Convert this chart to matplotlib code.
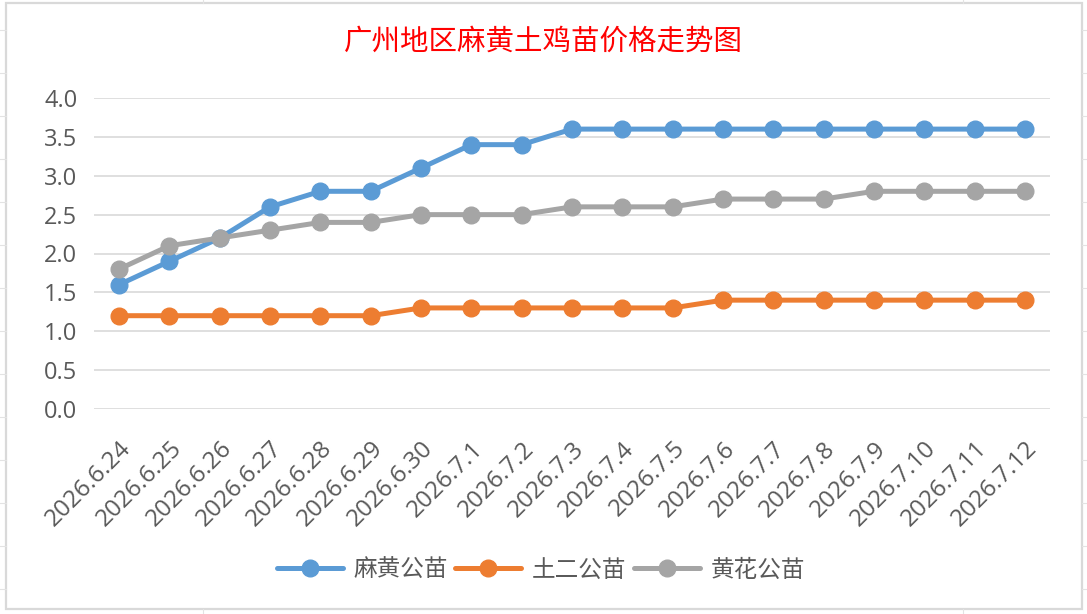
import matplotlib
matplotlib.use("Agg")
import matplotlib.pyplot as plt
from matplotlib.patches import Rectangle
from matplotlib.lines import Line2D

dates = ["2026.6.24", "2026.6.25", "2026.6.26", "2026.6.27", "2026.6.28", "2026.6.29",
         "2026.6.30", "2026.7.1", "2026.7.2", "2026.7.3", "2026.7.4", "2026.7.5",
         "2026.7.6", "2026.7.7", "2026.7.8", "2026.7.9", "2026.7.10", "2026.7.11", "2026.7.12"]
mahuang = [1.6, 1.9, 2.2, 2.6, 2.8, 2.8, 3.1, 3.4, 3.4, 3.6, 3.6, 3.6, 3.6, 3.6, 3.6, 3.6, 3.6, 3.6, 3.6]
tuer = [1.2, 1.2, 1.2, 1.2, 1.2, 1.2, 1.3, 1.3, 1.3, 1.3, 1.3, 1.3, 1.4, 1.4, 1.4, 1.4, 1.4, 1.4, 1.4]
huanghua = [1.8, 2.1, 2.2, 2.3, 2.4, 2.4, 2.5, 2.5, 2.5, 2.6, 2.6, 2.6, 2.7, 2.7, 2.7, 2.8, 2.8, 2.8, 2.8]
names = ["麻黄公苗", "土二公苗", "黄花公苗"]
colors = ["#5B9BD5", "#ED7D31", "#A5A5A5"]

W, H = 1087, 614
fig = plt.figure(figsize=(W / 100, H / 100), dpi=100)

# faint spreadsheet cell lines around the chart
for y in range(30, H, 43):
    fig.add_artist(Line2D([0, 6 / W], [1 - y / H] * 2, color="#E3E3E3", lw=0.8))
    fig.add_artist(Line2D([1082 / W, 1], [1 - y / H] * 2, color="#E3E3E3", lw=0.8))
for x in [203, 963]:
    fig.add_artist(Line2D([x / W] * 2, [1, 1 - 3 / H], color="#E3E3E3", lw=0.8))
    fig.add_artist(Line2D([x / W] * 2, [0, 1 - 609 / H], color="#E3E3E3", lw=0.8))
# chart border
fig.add_artist(Rectangle((6 / W, 1 - 609 / H), 1076 / W, 606 / H, transform=fig.transFigure,
                         fill=False, edgecolor="#D9D9D9", lw=1.6))

ax = fig.add_axes([94 / W, 1 - 409 / H, 956 / W, 311 / H])
x = range(len(dates))
for vals, name, c in zip([mahuang, tuer, huanghua], names, colors):
    ax.plot(x, vals, color=c, lw=3.6, marker="o", markersize=12, label=name,
            solid_capstyle="round", zorder=3)

ax.set_xlim(-0.5, len(dates) - 0.5)
ax.set_ylim(0, 4)
ax.set_yticks([i * 0.5 for i in range(9)])
ax.set_yticklabels([f"{i * 0.5:.1f}" for i in range(9)], fontfamily="Open Sans",
                   fontsize=17, color="#595959")
ax.set_xticks(list(x))
ax.set_xticklabels(dates, rotation=45, ha="right", rotation_mode="anchor",
                   fontfamily="Open Sans", fontsize=17.5, color="#595959")
ax.tick_params(axis="both", length=0)
ax.tick_params(axis="y", pad=12)
ax.tick_params(axis="x", pad=20)
for s in ax.spines.values():
    s.set_visible(False)
ax.grid(axis="y", color="#D9D9D9", lw=1.2)
ax.set_axisbelow(True)

fig.text(543 / W, 1 - 42 / H, "广州地区麻黄土鸡苗价格走势图", ha="center", va="center",
         color="#FF0000", fontsize=20.5, fontfamily=["Noto Sans CJK SC", "DejaVu Sans"])

leg = fig.legend(loc="center", bbox_to_anchor=(541 / W, 1 - 570 / H), ncol=3, frameon=False,
                 handlelength=2.8, handletextpad=0.45, columnspacing=0.3,
                 prop={"family": ["Noto Sans CJK SC", "DejaVu Sans"], "size": 17})
for t in leg.get_texts():
    t.set_color("#595959")

fig.savefig("out.png", dpi=100, facecolor="white")
